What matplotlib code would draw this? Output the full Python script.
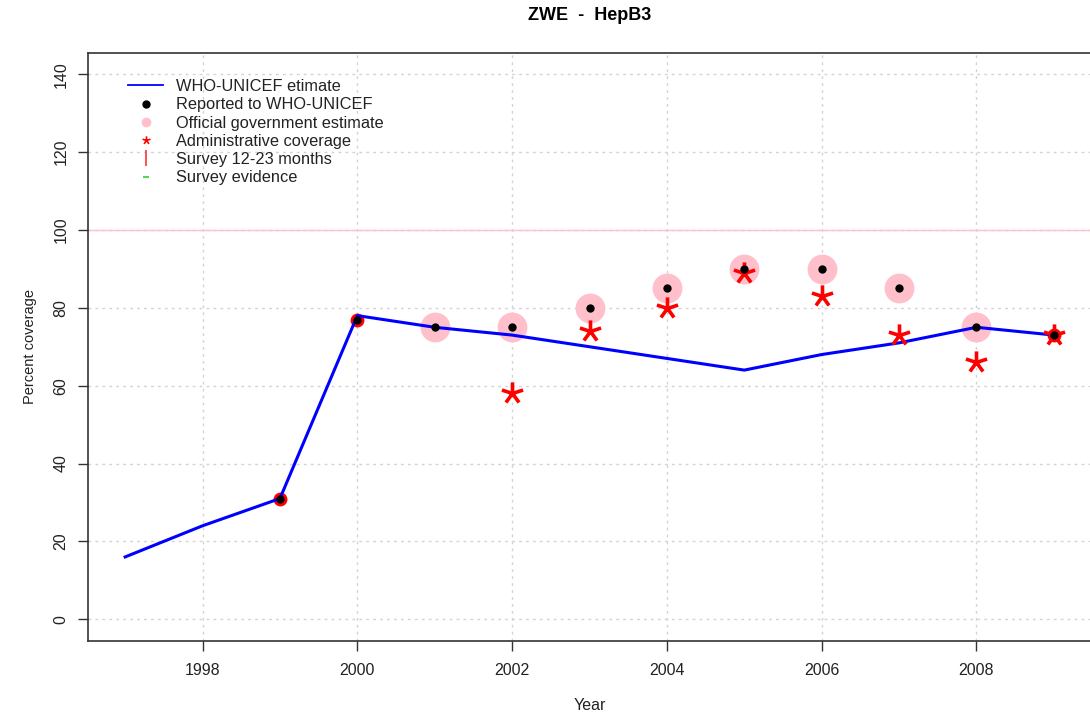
import matplotlib
matplotlib.use("Agg")
import matplotlib.pyplot as plt
from matplotlib.lines import Line2D
from matplotlib.path import Path
import numpy as np

plt.rcParams['font.family'] = ['Liberation Sans', 'DejaVu Sans']

# ---- data ----
est_years = [1997, 1998, 1999, 2000, 2001, 2002, 2003, 2004, 2005, 2006, 2007, 2008, 2009]
est_values = [16, 24, 31, 78, 75, 73, 70, 67, 64, 68, 71, 75, 73]

rep_years = [1999, 2000, 2001, 2002, 2003, 2004, 2005, 2006, 2007, 2008, 2009]
rep_values = [31, 77, 75, 75, 80, 85, 90, 90, 85, 75, 73]

gov_years = [2001, 2002, 2003, 2004, 2005, 2006, 2007, 2008]
gov_values = [75, 75, 80, 85, 90, 90, 85, 75]

admin_years = [2002, 2003, 2004, 2005, 2006, 2007, 2008, 2009]
admin_values = [58, 74, 80, 89, 83, 73, 66, 73]

admin_circle_years = [1999, 2000, 2009]
admin_circle_values = [31, 77, 73]

x_ticks = [1998, 2000, 2002, 2004, 2006, 2008]
y_ticks = [0, 20, 40, 60, 80, 100, 120, 140]

legend_labels = ["WHO-UNICEF etimate", "Reported to WHO-UNICEF",
                 "Official government estimate", "Administrative coverage",
                 "Survey 12-23 months", "Survey evidence"]

# ---- asterisk marker (5 arms like a text '*') ----
verts, codes = [], []
for ang in [90, 90 + 72, 90 + 144, 90 + 216, 90 + 288]:
    a = np.deg2rad(ang)
    verts += [(0, 0), (np.cos(a), np.sin(a))]
    codes += [Path.MOVETO, Path.LINETO]
star = Path(verts, codes)

fig = plt.figure(figsize=(10.9, 7.17), dpi=100)
ax = fig.add_axes([88 / 1090, 76 / 717, 1003 / 1090, 588.5 / 717])

ax.set_xlim(1996.52, 2009.48)
ax.set_ylim(-5.6, 145.6)

# grid
for xt in x_ticks:
    ax.axvline(xt, color='#d3d3d3', linestyle=(0, (2, 3)), linewidth=1.0, zorder=0)
for yt in y_ticks:
    ax.axhline(yt, color='#d3d3d3', linestyle=(0, (2, 3)), linewidth=1.0, zorder=0)
ax.axhline(100, color='pink', linewidth=1.0, zorder=1)

ax.plot(gov_years, gov_values, linestyle='none', marker='o', markersize=21.5,
        color='pink', markeredgewidth=0, zorder=2)
ax.plot(admin_circle_years, admin_circle_values, linestyle='none', marker='o',
        markersize=10, color='red', markeredgewidth=0, zorder=3)
ax.plot(est_years, est_values, color='blue', linewidth=2.2, zorder=4)
ax.plot(admin_years, admin_values, linestyle='none', marker=star, markersize=16,
        markerfacecolor='none', markeredgecolor='red', markeredgewidth=2.6, zorder=5)
ax.plot(rep_years, rep_values, linestyle='none', marker='o', markersize=6,
        color='black', markeredgewidth=0, zorder=6)

ax.set_xticks(x_ticks)
ax.set_yticks(y_ticks)
ax.set_yticklabels([str(v) for v in y_ticks], rotation=90, va='center')
ax.tick_params(axis='both', direction='out', length=7, width=1.0, color='#333333',
               labelsize=11.5, labelcolor='#222222')
ax.tick_params(axis='x', pad=9)
ax.tick_params(axis='y', pad=7)

for side in ['left', 'bottom', 'top', 'right']:
    ax.spines[side].set_color('#333333')
    ax.spines[side].set_linewidth(1.2)

ax.set_xlabel("Year", fontsize=11.5, labelpad=14, color='#222222')
ax.set_ylabel("Percent coverage", fontsize=10.5, labelpad=12, color='#222222')
fig.text(590 / 1090, 1 - 16 / 717, "ZWE  -  HepB3", fontsize=13, fontweight='bold',
         ha='center', va='center')

handles = [
    Line2D([], [], color='blue', linewidth=1.3),
    Line2D([], [], linestyle='none', marker='o', markersize=5, color='black'),
    Line2D([], [], linestyle='none', marker='o', markersize=6, color='pink'),
    Line2D([], [], linestyle='none', marker=star, markersize=6, markerfacecolor='none',
           markeredgecolor='red', markeredgewidth=1.2),
    Line2D([], [], linestyle='none', marker='|', markersize=12, color='#ff3333',
           markeredgewidth=1.2),
    Line2D([], [], linestyle='none', marker='_', markersize=4, color='#33cc33',
           markeredgewidth=1.2),
]
leg = ax.legend(handles, legend_labels, loc='upper left',
                bbox_to_anchor=(40 / 1003, (641 - 79) / 588.5), frameon=False,
                fontsize=11.8, handlelength=2.15, handletextpad=0.8,
                labelspacing=0.2, borderpad=0, borderaxespad=0)
for t in leg.get_texts():
    t.set_color('#222222')

fig.savefig("out.png", dpi=100)
